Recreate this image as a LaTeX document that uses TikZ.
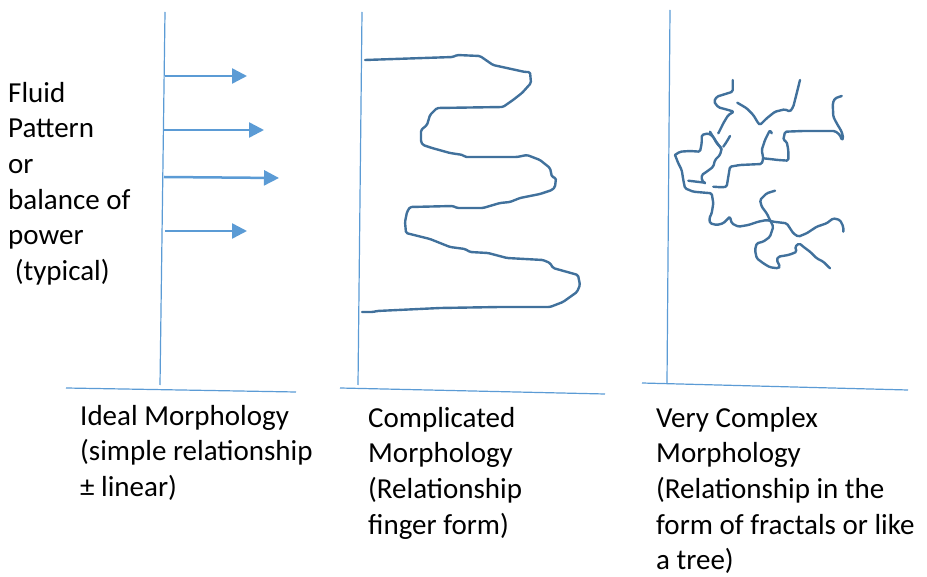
\documentclass[tikz,border=0pt]{standalone}
\usepackage{fontspec}
\setmainfont{Carlito}
\usetikzlibrary{arrows.meta}
\definecolor{axisblue}{RGB}{91,155,213}
\definecolor{curveblue}{RGB}{65,113,156}
\tikzset{
	axisline/.style={axisblue, line width=1.2pt},
	flow/.style={axisblue, line width=2.5pt, -{Triangle[length=15pt,width=15pt]}},
	sketch/.style={curveblue, line width=2.4pt, line join=round, line cap=round, rounded corners=1.5pt},
	textblock/.style={anchor=north west, inner sep=0pt, align=left, font=\fontsize{29}{35.6}\selectfont}
}
\begin{document}
\begin{tikzpicture}[x=1pt, y=-1pt]
			\useasboundingbox (0,0) rectangle (927,577);
			% panel 1
			\draw[axisline] (165,12) -- (160,385);
			\draw[axisline] (66,388) -- (296,392);
			\coordinate (a1) at (165,76);  \coordinate (b1) at (247,76);
			\coordinate (a2) at (164,130); \coordinate (b2) at (264,130);
			\coordinate (a3) at (164,177); \coordinate (b3) at (279,178);
			\coordinate (a4) at (165,231); \coordinate (b4) at (247,231);
			\draw[flow] (a1) -- (b1);
			\draw[flow] (a2) -- (b2);
			\draw[flow] (a3) -- (b3);
			\draw[flow] (a4) -- (b4);
			\node[textblock] (fluid) at (8,82) {Fluid\\Pattern\\or\\balance of\\power\\\ (typical)};
			\node[textblock] (ideal) at (80,405) {Ideal Morphology\\(simple relationship\\± linear)};
			% panel 2
			\draw[axisline] (362,12) -- (358,385);
			\draw[axisline] (340,388) -- (605,394);
			\draw[sketch] (365,60) -- (453,57) -- (457,55) -- (480,56) -- (493,65) -- (525,72) -- (530,72)
				-- (531,83) -- (522,93) -- (513,100) -- (503,107) -- (437,108) -- (430,115) -- (427,125)
				-- (421,130) -- (421,142) -- (423,145) -- (432,148) -- (450,153) -- (463,155) -- (465,157)
				-- (480,157) -- (517,157) -- (527,155) -- (540,160) -- (550,168) -- (552,177) -- (556,178)
				-- (555,187) -- (552,190) -- (540,194) -- (520,198) -- (510,202) -- (500,203) -- (483,208)
				-- (457,208) -- (453,206) -- (410,207) -- (407,212) -- (405,222) -- (406,233) -- (430,239)
				-- (450,247) -- (465,249) -- (470,252) -- (488,253) -- (507,258) -- (543,260) -- (550,263)
				-- (553,268) -- (578,275) -- (580,285) -- (577,292) -- (563,302) -- (550,307) -- (500,307)
				-- (440,308) -- (377,311) -- (373,312) -- (362,312);
			\node[textblock] (complicated) at (368,407) {Complicated\\Morphology\\(Relationship\\finger form)};
			% panel 3
			\draw[axisline] (670,10) -- (667,383);
			\draw[axisline] (642,383) -- (908,390);
			\draw[sketch] (732.7,80) -- (732.7,91.7) -- (716.7,96.7) -- (714,101.7) -- (718.3,107.3) -- (728.3,110)
				-- (734,111.7) -- (728.3,115) -- (723.3,123.3) -- (720,130) -- (718.3,133.3);
			\draw[sketch] (675,155) -- (680,151.7) -- (690,151) -- (700,151.7) -- (701.7,143.3) -- (701.7,135)
				-- (708.3,133.3) -- (713.3,136.7) -- (716.7,143.3) -- (721.7,148.3) -- (720,155) -- (715,160)
				-- (713.3,166.7) -- (706.7,171.7) -- (701.7,175) -- (701.7,180) -- (705,183.3);
			\draw[sketch] (688.3,180.7) -- (705,182.7);
			\draw[sketch] (675,155) -- (678.3,163.3) -- (681.7,170) -- (683.3,180) -- (685,188.3) -- (693.3,191.7)
				-- (711.7,193.3) -- (713.3,203.3) -- (711.7,213.3) -- (709.3,218.3) -- (710,223.3) -- (716.7,225)
				-- (723.3,223.3) -- (728.3,218.3) -- (730,216.7) -- (731.7,223.3) -- (738.3,226.7) -- (748.3,225)
				-- (758.3,221.7) -- (766.7,220) -- (773.3,221.7) -- (786.7,223.3) -- (793.3,233.3) -- (798.3,236.7)
				-- (806.7,233.3) -- (816.7,226.7) -- (826.7,223.3) -- (833.3,218.3) -- (840,220) -- (843.3,226.7)
				-- (843.3,231.7);
			\draw[sketch] (713.3,186.7) -- (721.7,187.3) -- (726.7,186.7) -- (728.3,176.7) -- (730,166.7) -- (740,165)
				-- (761.7,164) -- (763.3,158.3) -- (761.7,150) -- (765,140) -- (770,130) -- (771.7,133.3);
			\draw[sketch] (763.3,158.3) -- (778.3,160) -- (788.3,160.7) -- (788.3,150) -- (786.7,141.7) -- (783.3,140)
				-- (785,131.7) -- (803.3,131) -- (835,131) -- (840,135) -- (841.7,140) -- (843.3,138.3)
				-- (841.7,131.7) -- (836.7,123.3) -- (833.3,116.7) -- (832.7,103.3) -- (835,98.3) -- (841.7,96);
			\draw[sketch] (737.3,102.7) -- (746.7,108.3) -- (753.3,115) -- (758.3,123.3) -- (760,125) -- (766.7,118.3)
				-- (775,111.7) -- (785,109.3) -- (790,111.7) -- (793.3,106.7) -- (796.7,93.3) -- (800,80);
			\draw[sketch] (775,190.7) -- (766.7,193.3) -- (760,200) -- (761.7,206.7) -- (766.7,213.3) -- (770,220)
				-- (773.3,226.7) -- (770,236.7) -- (763.3,241.7) -- (756.7,243.3) -- (755,250) -- (756.7,258.3)
				-- (763.3,263.3) -- (770,267.3) -- (778.3,268.3) -- (780,266.7) -- (776.7,260) -- (778.3,256.7)
				-- (788.3,255) -- (793.3,253.3) -- (796.7,251.7) -- (795,246.7) -- (799.3,243.3) -- (803.3,246.7)
				-- (810,251.7) -- (816.7,258.3) -- (823.3,261.7) -- (830,268.3);
			\draw[sketch] (710,131.7) -- (715,140) -- (721.7,149.3);
			\draw[sketch] (730,136) -- (726.7,141.7) -- (723.3,146.7);
			\node[textblock] (complex) at (656,407) {Very Complex\\Morphology\\(Relationship in the\\form of fractals or like\\a tree)};
		\end{tikzpicture}
\end{document}
